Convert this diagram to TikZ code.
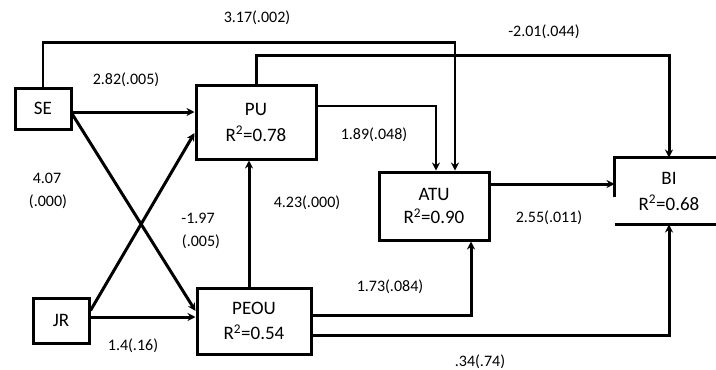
\documentclass[tikz,border=0pt]{standalone}
\usepackage{fontspec}
\setmainfont{Carlito}
\usetikzlibrary{arrows.meta}
\begin{document}
\begin{tikzpicture}[x=1pt,y=-1pt,
  box/.style={draw, line width=3pt, inner sep=0pt, align=center, font=\fontsize{19}{21}\selectfont},
  conn/.style={line width=3pt},
  arr/.style={conn, -{Stealth[length=8pt,width=8pt]}},
  thinarr/.style={arr, line width=2.4pt},
  lab/.style={font=\fontsize{16}{18}\selectfont, inner sep=0pt}]
\useasboundingbox (0,0) rectangle (716,370);
% boxes
\node[box, minimum width=56pt, minimum height=41pt] (se) at (43,108.5) {SE};
\node[box, minimum width=56pt, minimum height=45pt] (jr) at (61,320.5) {JR};
\node[box, minimum width=120pt, minimum height=74pt] (pu) at (256,122) {PU\\[5pt]R\textsuperscript{2}=0.78};
\node[box, minimum width=114pt, minimum height=66pt] (peou) at (254,321) {PEOU\\[4pt]R\textsuperscript{2}=0.54};
\node[box, minimum width=110pt, minimum height=68pt] (atu) at (434,206) {ATU\\[2pt]R\textsuperscript{2}=0.90};
\node[box, draw=none, minimum width=106pt, minimum height=64pt] (bi) at (669,191) {BI\\[5pt]R\textsuperscript{2}=0.68};
% partial border of BI
\coordinate (biL) at ([yshift=-6pt]bi.west);
\draw[conn] (biL) -- (bi.north west) -- (bi.north east);
\draw[conn] (bi.south west) -- (bi.south east);
% anchor points
\coordinate (atuA) at ([xshift=21pt]atu.north);
\coordinate (atuB) at ([xshift=2pt]atu.north);
\coordinate (puR) at ([yshift=16pt]pu.east);
\coordinate (seR) at ([yshift=-3.5pt]se.east);
\coordinate (seD) at ([yshift=-6pt]se.east);
\coordinate (jrU) at ([yshift=10pt]jr.east);
\coordinate (jrR) at ([yshift=3.5pt]jr.east);
\coordinate (puL) at ([yshift=-11pt]pu.west);
\coordinate (peouL) at ([yshift=10pt]peou.west);
\coordinate (peouU) at ([xshift=-5pt]peou.north);
\coordinate (peouR1) at ([yshift=6pt]peou.east);
\coordinate (peouR2) at ([yshift=-14pt]peou.east);
\coordinate (atuD) at ([xshift=37pt]atu.south);
\coordinate (atuR) at ([yshift=22pt]atu.east);
% connectors
\draw[thinarr] (se.north) -- ++(0,-44) -| (atuA);
\draw[arr] (pu.north) -- ++(0,-28) -| (bi.north);
\draw[thinarr] (puR) -| (atuB);
\draw[arr] (seR) -- (seR -| pu.west);
\draw[arr] (seD) -- (peouL);
\draw[arr] (jrU) -- (puL);
\draw[arr] (jrR) -- (jrR -| peou.west);
\draw[arr] (peouU) -- (peouU |- pu.south);
\draw[arr] (peouR1) -| (atuD);
\draw[arr] (peouR2) -| (bi.south);
\draw[arr] (atuR) -- (atuR -| bi.west);
% labels
\node[lab] (l1) at (257,18) {3.17(.002)};
\node[lab] (l2) at (126,80) {2.82(.005)};
\node[lab] (l3) at (544,32) {-2.01(.044)};
\node[lab] (l4) at (374,135) {1.89(.048)};
\node[lab] (l5) at (47,178) {4.07};
\node[lab] (l6) at (48,202) {(.000)};
\node[lab] (l7) at (198,218) {-1.97};
\node[lab] (l8) at (201,242) {(.005)};
\node[lab] (l9) at (307,203) {4.23(.000)};
\node[lab] (l10) at (133,346) {1.4(.16)};
\node[lab] (l11) at (390,287) {1.73(.084)};
\node[lab] (l12) at (549,218) {2.55(.011)};
\node[lab] (l13) at (480,362) {.34(.74)};
\end{tikzpicture}
\end{document}
